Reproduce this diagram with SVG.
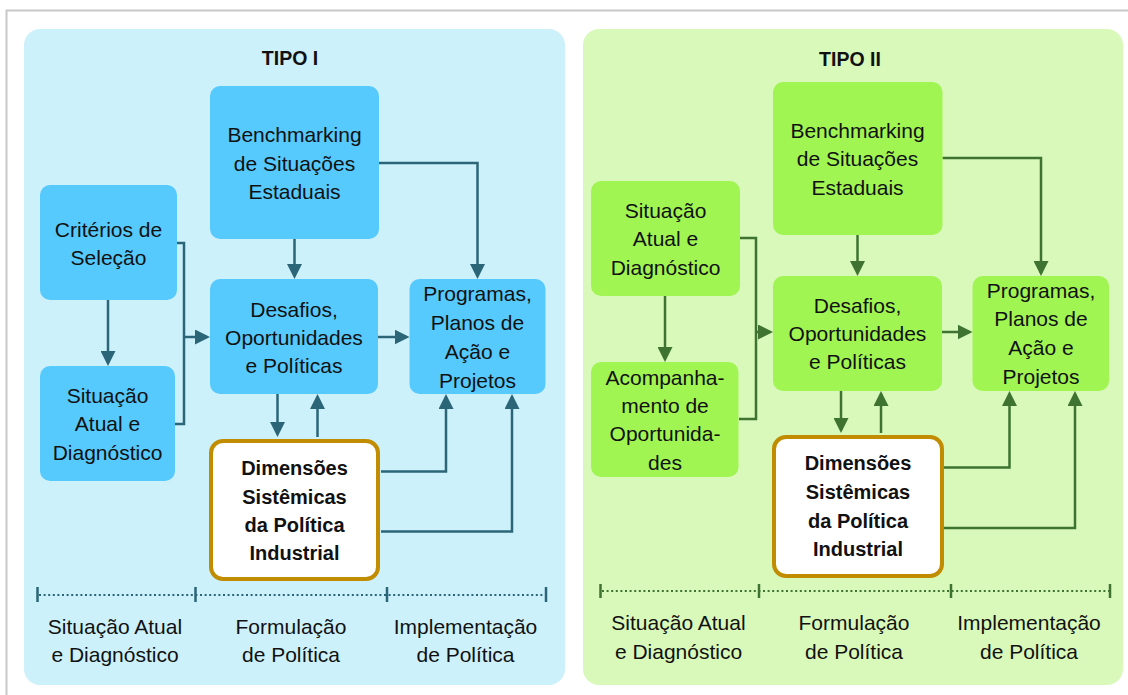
<svg xmlns="http://www.w3.org/2000/svg" width="1128" height="695" viewBox="0 0 1128 695">
<style>
text{font-family:"Liberation Sans",Arial,sans-serif;fill:#111;text-anchor:middle}
.t{font-size:21px}
.b{font-size:20px;font-weight:bold}
.h{font-size:19.5px;font-weight:bold}
.nb{fill:#56C9FD}
.ng{fill:#A1F553}
.dim{fill:#fff;stroke:#C18C00;stroke-width:4}
.cb{fill:none;stroke:#2A6578;stroke-width:2.5}
.cg{fill:none;stroke:#3E7331;stroke-width:2.5}
.db{fill:none;stroke:#2A6578;stroke-width:2.2;stroke-dasharray:2 2.6}
.dg{fill:none;stroke:#3E7331;stroke-width:2.2;stroke-dasharray:2 2.6}
.tb{stroke:#2A6578;stroke-width:2.5}
.tg{stroke:#3E7331;stroke-width:2.5}
</style>
<defs>
<marker id="ab" viewBox="0 0 15 15" refX="12" refY="7.5" markerWidth="15" markerHeight="15" markerUnits="userSpaceOnUse" orient="auto"><path d="M0,0 L15,7.5 L0,15 z" fill="#2A6578"/></marker>
<marker id="ag" viewBox="0 0 15 15" refX="12" refY="7.5" markerWidth="15" markerHeight="15" markerUnits="userSpaceOnUse" orient="auto"><path d="M0,0 L15,7.5 L0,15 z" fill="#3E7331"/></marker>
</defs>
<rect x="0" y="0" width="1128" height="695" fill="#fff"/>
<rect x="6.5" y="10.5" width="1135" height="700" fill="none" stroke="#C8C8C8" stroke-width="2"/>

<g id="panel-tipo1">
<rect x="24" y="29" width="541" height="656" rx="16" fill="#CDF1FB"/>
<text class="h" x="290" y="65">TIPO I</text>
</g>
<g id="panel-tipo2">
<rect x="583" y="29" width="540" height="656" rx="16" fill="#D9F9BA"/>
<text class="h" x="850" y="66">TIPO II</text>
</g>

<g id="connectors">
<path class="cb" d="M177,243 H184 V424 H175"/>
<path class="cb" d="M184,337 H207" marker-end="url(#ab)"/>
<path class="cb" d="M108,300 V363" marker-end="url(#ab)"/>
<path class="cb" d="M294.5,239 V276" marker-end="url(#ab)"/>
<path class="cb" d="M379,163 H477.5 V276" marker-end="url(#ab)"/>
<path class="cb" d="M378,337 H406.5" marker-end="url(#ab)"/>
<path class="cb" d="M277.5,394 V434" marker-end="url(#ab)"/>
<path class="cb" d="M317.5,437 V397" marker-end="url(#ab)"/>
<path class="cb" d="M381,471.5 H446 V397" marker-end="url(#ab)"/>
<path class="cb" d="M381,531.5 H512 V397" marker-end="url(#ab)"/>

<path class="cg" d="M740,238 H756 V419 H739"/>
<path class="cg" d="M756,332 H770" marker-end="url(#ag)"/>
<path class="cg" d="M665,296 V359" marker-end="url(#ag)"/>
<path class="cg" d="M857.5,235 V273" marker-end="url(#ag)"/>
<path class="cg" d="M942.5,158 H1041 V273" marker-end="url(#ag)"/>
<path class="cg" d="M942,332 H969.5" marker-end="url(#ag)"/>
<path class="cg" d="M841,391 V430" marker-end="url(#ag)"/>
<path class="cg" d="M881,433 V394" marker-end="url(#ag)"/>
<path class="cg" d="M944,467.5 H1009.5 V394" marker-end="url(#ag)"/>
<path class="cg" d="M944,528 H1075 V394" marker-end="url(#ag)"/>
</g>

<g id="l-bench">
<rect class="nb" x="210" y="86" width="169" height="153" rx="10"/>
<text class="t" x="294.5" y="142">Benchmarking</text>
<text class="t" x="294.5" y="171">de Situações</text>
<text class="t" x="294.5" y="199">Estaduais</text>
</g>
<g id="l-criterios">
<rect class="nb" x="40" y="185" width="137" height="115" rx="10"/>
<text class="t" x="108.5" y="237">Critérios de</text>
<text class="t" x="108.5" y="265">Seleção</text>
</g>
<g id="l-situacao">
<rect class="nb" x="40" y="366" width="135" height="115" rx="10"/>
<text class="t" x="107.5" y="403">Situação</text>
<text class="t" x="107.5" y="431">Atual e</text>
<text class="t" x="107.5" y="460">Diagnóstico</text>
</g>
<g id="l-desafios">
<rect class="nb" x="210" y="279" width="168" height="115" rx="10"/>
<text class="t" x="294" y="317">Desafios,</text>
<text class="t" x="294" y="345">Oportunidades</text>
<text class="t" x="294" y="373">e Políticas</text>
</g>
<g id="l-programas">
<rect class="nb" x="409.5" y="279" width="136" height="115" rx="10"/>
<text class="t" x="477.5" y="301">Programas,</text>
<text class="t" x="477.5" y="330">Planos de</text>
<text class="t" x="477.5" y="359">Ação e</text>
<text class="t" x="477.5" y="388">Projetos</text>
</g>
<g id="l-dimensoes">
<rect class="dim" x="211" y="441" width="167" height="138" rx="12"/>
<text class="b" x="294.5" y="475">Dimensões</text>
<text class="b" x="294.5" y="504">Sistêmicas</text>
<text class="b" x="294.5" y="532">da Política</text>
<text class="b" x="294.5" y="560">Industrial</text>
</g>
<g id="l-timeline">
<line class="db" x1="39" y1="595" x2="545" y2="595"/>
<line class="tb" x1="37.5" y1="587" x2="37.5" y2="602"/>
<line class="tb" x1="195.5" y1="587" x2="195.5" y2="602"/>
<line class="tb" x1="387" y1="587" x2="387" y2="602"/>
<line class="tb" x1="546" y1="587" x2="546" y2="602"/>
<text class="t" x="115" y="634">Situação Atual</text>
<text class="t" x="115" y="662">e Diagnóstico</text>
<text class="t" x="291" y="634">Formulação</text>
<text class="t" x="291" y="662">de Política</text>
<text class="t" x="465.5" y="634">Implementação</text>
<text class="t" x="465.5" y="662">de Política</text>
</g>

<g id="r-bench">
<rect class="ng" x="773" y="82" width="169.5" height="153" rx="10"/>
<text class="t" x="857.5" y="138">Benchmarking</text>
<text class="t" x="857.5" y="166">de Situações</text>
<text class="t" x="857.5" y="195">Estaduais</text>
</g>
<g id="r-situacao">
<rect class="ng" x="591" y="181" width="149" height="115" rx="10"/>
<text class="t" x="665.5" y="218">Situação</text>
<text class="t" x="665.5" y="246">Atual e</text>
<text class="t" x="665.5" y="275">Diagnóstico</text>
</g>
<g id="r-acompanhamento">
<rect class="ng" x="591" y="362" width="147.5" height="115" rx="10"/>
<text class="t" x="665" y="385">Acompanha-</text>
<text class="t" x="665" y="413">mento de</text>
<text class="t" x="665" y="441">Oportunida-</text>
<text class="t" x="665" y="470">des</text>
</g>
<g id="r-desafios">
<rect class="ng" x="773" y="276" width="169" height="115" rx="10"/>
<text class="t" x="857.5" y="313">Desafios,</text>
<text class="t" x="857.5" y="341">Oportunidades</text>
<text class="t" x="857.5" y="369">e Políticas</text>
</g>
<g id="r-programas">
<rect class="ng" x="972.5" y="276" width="136.5" height="115" rx="10"/>
<text class="t" x="1041" y="298">Programas,</text>
<text class="t" x="1041" y="326">Planos de</text>
<text class="t" x="1041" y="355">Ação e</text>
<text class="t" x="1041" y="384">Projetos</text>
</g>
<g id="r-dimensoes">
<rect class="dim" x="774" y="437" width="168" height="139" rx="12"/>
<text class="b" x="858" y="470">Dimensões</text>
<text class="b" x="858" y="499">Sistêmicas</text>
<text class="b" x="858" y="528">da Política</text>
<text class="b" x="858" y="556">Industrial</text>
</g>
<g id="r-timeline">
<line class="dg" x1="602" y1="591" x2="1109" y2="591"/>
<line class="tg" x1="600.5" y1="584" x2="600.5" y2="598"/>
<line class="tg" x1="759" y1="584" x2="759" y2="598"/>
<line class="tg" x1="951" y1="584" x2="951" y2="598"/>
<line class="tg" x1="1110" y1="584" x2="1110" y2="598"/>
<text class="t" x="678.5" y="630">Situação Atual</text>
<text class="t" x="678.5" y="659">e Diagnóstico</text>
<text class="t" x="854" y="630">Formulação</text>
<text class="t" x="854" y="659">de Política</text>
<text class="t" x="1029" y="630">Implementação</text>
<text class="t" x="1029" y="659">de Política</text>
</g>
</svg>
